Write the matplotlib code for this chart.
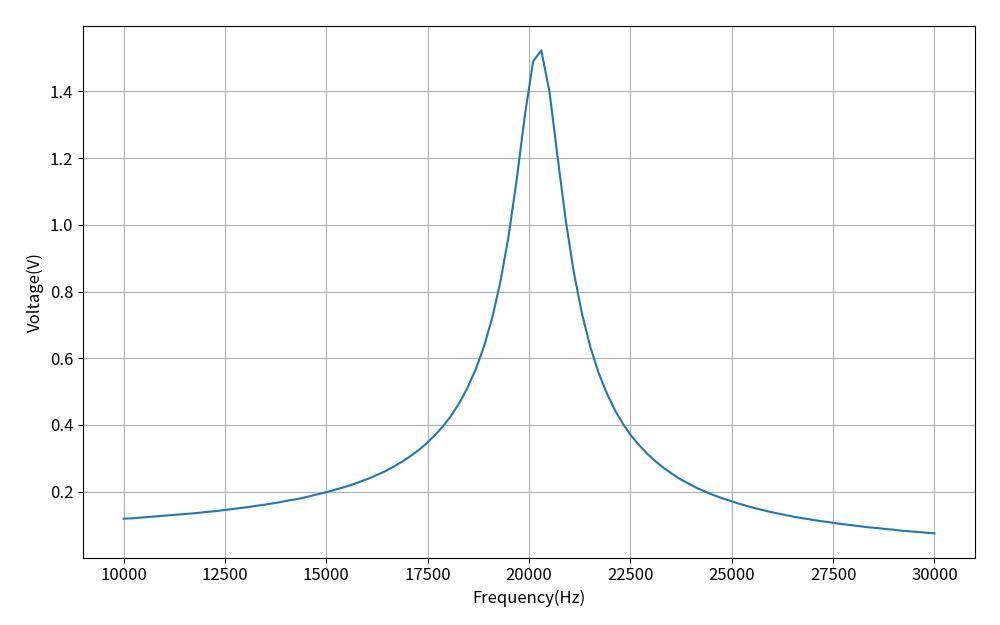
import numpy as np
import matplotlib
matplotlib.use('Agg')
import matplotlib.pyplot as plt

plt.rcParams['font.family'] = ['Noto Sans CJK SC', 'DejaVu Sans']
plt.rcParams['axes.unicode_minus'] = False

# 扫频点 (Hz)
freq = [10000, 10202, 10404, 10606, 10808, 11010, 11212, 11414, 11616, 11818,
        12020, 12222, 12424, 12626, 12828, 13030, 13232, 13434, 13636, 13838,
        14040, 14242, 14444, 14646, 14848, 15051, 15253, 15455, 15657, 15859,
        16061, 16263, 16465, 16667, 16869, 17071, 17273, 17475, 17677, 17879,
        18081, 18283, 18485, 18687, 18889, 19091, 19293, 19495, 19697, 19899,
        20101, 20303, 20505, 20707, 20909, 21111, 21313, 21515, 21717, 21919,
        22121, 22323, 22525, 22727, 22929, 23131, 23333, 23535, 23737, 23939,
        24141, 24343, 24545, 24747, 24949, 25152, 25354, 25556, 25758, 25960,
        26162, 26364, 26566, 26768, 26970, 27172, 27374, 27576, 27778, 27980,
        28182, 28384, 28586, 28788, 28990, 29192, 29394, 29596, 29798, 30000]

# 电压 (V)
volt = [0.119, 0.120, 0.122, 0.124, 0.126, 0.128, 0.130, 0.132, 0.134, 0.136,
        0.139, 0.141, 0.144, 0.147, 0.150, 0.153, 0.157, 0.160, 0.164, 0.168,
        0.173, 0.177, 0.182, 0.188, 0.194, 0.200, 0.207, 0.214, 0.222, 0.231,
        0.240, 0.251, 0.262, 0.275, 0.290, 0.306, 0.324, 0.345, 0.369, 0.396,
        0.428, 0.466, 0.512, 0.567, 0.635, 0.720, 0.828, 0.965, 1.136, 1.329,
        1.490, 1.523, 1.399, 1.202, 1.011, 0.854, 0.730, 0.633, 0.556, 0.495,
        0.444, 0.402, 0.367, 0.338, 0.312, 0.290, 0.270, 0.253, 0.237, 0.224,
        0.211, 0.200, 0.190, 0.181, 0.173, 0.165, 0.158, 0.151, 0.145, 0.139,
        0.134, 0.129, 0.124, 0.120, 0.116, 0.112, 0.109, 0.105, 0.102, 0.099,
        0.096, 0.093, 0.091, 0.088, 0.086, 0.083, 0.081, 0.079, 0.077, 0.075]

fig, ax = plt.subplots(figsize=(10, 6.25), dpi=100)
fig.subplots_adjust(left=0.083, right=0.975, top=0.958, bottom=0.108)
ax.plot(freq, volt)
ax.grid(True)
ax.set_xlabel('Frequency(Hz)', fontsize=12)
ax.set_ylabel('Voltage(V)', fontsize=12)
ax.tick_params(labelsize=12)
fig.savefig('out.png')
